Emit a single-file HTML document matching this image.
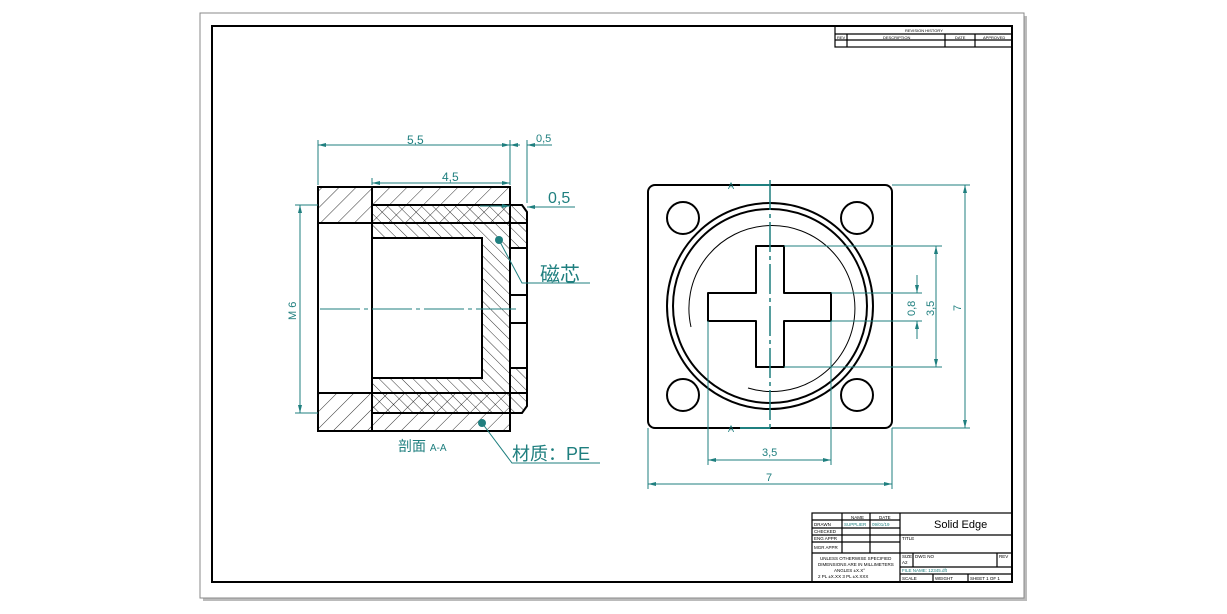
<!DOCTYPE html>
<html><head><meta charset="utf-8"><style>
html,body{margin:0;padding:0;background:#fff;width:1227px;height:614px;overflow:hidden}
svg{display:block}
text{font-family:"Liberation Sans","Noto Sans CJK SC",sans-serif}
</style></head><body>
<svg width="1227" height="614" viewBox="0 0 1227 614" xmlns="http://www.w3.org/2000/svg">
<defs>
<pattern id="pe" patternUnits="userSpaceOnUse" width="12" height="12" patternTransform="rotate(45)"><line x1="0" y1="0" x2="0" y2="12" stroke="#000" stroke-width="0.8"/></pattern>
<pattern id="mc" patternUnits="userSpaceOnUse" width="8" height="8" patternTransform="rotate(-45)"><line x1="0" y1="0" x2="0" y2="8" stroke="#000" stroke-width="0.8"/></pattern>
<marker id="ar" markerWidth="8" markerHeight="6" refX="8" refY="3" orient="auto-start-reverse" markerUnits="userSpaceOnUse"><path d="M0,1 L8,3 L0,5z" fill="#1f7f7f"/></marker>
</defs>
<!-- sheet -->
<rect x="203" y="16" width="824" height="585" fill="#bbb"/>
<rect x="200" y="13" width="824" height="585" fill="#fff" stroke="#888" stroke-width="1"/>
<rect x="212" y="26" width="800" height="556" fill="none" stroke="#000" stroke-width="2"/>
<!-- revision block -->
<g stroke="#000" fill="none" stroke-width="1.2">
<rect x="835" y="26" width="177" height="21"/>
<line x1="835" y1="34" x2="1012" y2="34"/><line x1="835" y1="40" x2="1012" y2="40"/>
<line x1="847" y1="34" x2="847" y2="47"/><line x1="945" y1="34" x2="945" y2="47"/><line x1="975" y1="34" x2="975" y2="47"/>
</g>
<g font-size="4" fill="#000"><text x="905" y="32">REVISION HISTORY</text><text x="837" y="39">REV</text><text x="883" y="39">DESCRIPTION</text><text x="955" y="39">DATE</text><text x="983" y="39">APPROVED</text></g>

<!-- LEFT VIEW -->
<g>
<path d="M318,187 H510 V205 H372 V411 H510 V431 H318Z M318,223 V393 H372 V223Z" fill="url(#pe)" fill-rule="evenodd"/>
<path d="M372,205 H522 L527,212 V406 L522,413 H372Z M372,238 V378 H482 V238Z M510,248 V368 H527 V248Z" fill="url(#mc)" fill-rule="evenodd"/>
<rect x="372" y="205" width="138" height="18" fill="url(#pe)"/>
<rect x="372" y="393" width="138" height="18" fill="url(#pe)"/>
<g stroke="#000" fill="none" stroke-width="2">
<path d="M318,187 H510 V431 H318Z"/>
<path d="M372,205 H522 L527,212 V406 L522,413 H372Z"/>
<rect x="372" y="238" width="110" height="140"/>
<line x1="318" y1="223" x2="527" y2="223"/><line x1="318" y1="393" x2="527" y2="393"/>
<line x1="372" y1="187" x2="372" y2="431"/>
<path d="M527,248 H510 V368 H527 M510,295 H527 M510,323 H527"/>
</g>
<line x1="320" y1="309" x2="518" y2="309" stroke="#1f7f7f" stroke-width="1" stroke-dasharray="40,4,4,4"/>
</g>
<g stroke="#1f7f7f" stroke-width="1" fill="none">
<line x1="318" y1="185" x2="318" y2="140"/><line x1="510" y1="185" x2="510" y2="140"/><line x1="527" y1="203" x2="527" y2="140"/>
<line x1="372" y1="185" x2="372" y2="178"/>
<line x1="318" y1="145" x2="510" y2="145" marker-start="url(#ar)" marker-end="url(#ar)"/>
<line x1="510" y1="145" x2="520" y2="145" marker-start="url(#ar)"/><line x1="527" y1="145" x2="552" y2="145" marker-start="url(#ar)"/>
<line x1="372" y1="183" x2="510" y2="183" marker-start="url(#ar)" marker-end="url(#ar)"/>
<line x1="480" y1="206" x2="510" y2="206" marker-end="url(#ar)"/><line x1="575" y1="207" x2="527" y2="207" marker-end="url(#ar)"/>
<line x1="295" y1="205" x2="318" y2="205"/><line x1="295" y1="413" x2="318" y2="413"/>
<line x1="300" y1="205" x2="300" y2="413" marker-start="url(#ar)" marker-end="url(#ar)"/>
<polyline points="499,240 522,283 590,283"/>
<polyline points="482,423 512,463 600,463"/>
</g>
<circle cx="499" cy="240" r="4" fill="#1f7f7f"/><circle cx="482" cy="423" r="4" fill="#1f7f7f"/>
<g fill="#1f7f7f">
<text x="407" y="144" font-size="12">5,5</text><text x="442" y="181" font-size="12">4,5</text>
<text x="536" y="142" font-size="11">0,5</text><text x="548" y="203" font-size="16">0,5</text>
<text x="296" y="320" font-size="11" transform="rotate(-90 296 320)">M 6</text>
<text x="540" y="281" font-size="20">磁芯</text>
<text x="512" y="460" font-size="18">材质：PE</text>
<text x="398" y="451" font-size="14">剖面 <tspan font-size="10">A-A</tspan></text>
</g>

<!-- RIGHT VIEW -->
<g stroke="#000" fill="none" stroke-width="2">
<rect x="648" y="185" width="244" height="243" rx="7"/>
<circle cx="770" cy="306" r="103"/><circle cx="770" cy="306" r="97"/>
<circle cx="683" cy="218" r="16"/><circle cx="857" cy="218" r="16"/><circle cx="683" cy="395" r="16"/><circle cx="857" cy="395" r="16"/>
<path d="M756,246 H784 V293 H831 V321 H784 V367 H756 V321 H708 V293 H756Z" stroke-linejoin="round"/>
</g>
<path d="M691,327 A83,83 0 1 1 748,388" stroke="#000" stroke-width="1" fill="none"/>
<g stroke="#1f7f7f" stroke-width="1" fill="none">
<line x1="770" y1="180" x2="770" y2="432" stroke-width="1.5" stroke-dasharray="30,4,4,4"/>
<line x1="740" y1="185" x2="770" y2="185" stroke-width="2"/><line x1="740" y1="428" x2="770" y2="428" stroke-width="2"/>
<line x1="784" y1="246" x2="942" y2="246"/><line x1="784" y1="367" x2="942" y2="367"/>
<line x1="831" y1="293" x2="922" y2="293"/><line x1="831" y1="321" x2="922" y2="321"/>
<line x1="892" y1="185" x2="970" y2="185"/><line x1="892" y1="428" x2="970" y2="428"/>
<line x1="936" y1="246" x2="936" y2="367" marker-start="url(#ar)" marker-end="url(#ar)"/>
<line x1="917" y1="275" x2="917" y2="293" marker-end="url(#ar)"/><line x1="917" y1="339" x2="917" y2="321" marker-end="url(#ar)"/>
<line x1="965" y1="185" x2="965" y2="428" marker-start="url(#ar)" marker-end="url(#ar)"/>
<line x1="708" y1="321" x2="708" y2="465"/><line x1="831" y1="321" x2="831" y2="465"/>
<line x1="648" y1="428" x2="648" y2="489"/><line x1="892" y1="428" x2="892" y2="489"/>
<line x1="708" y1="460" x2="831" y2="460" marker-start="url(#ar)" marker-end="url(#ar)"/>
<line x1="648" y1="484" x2="892" y2="484" marker-start="url(#ar)" marker-end="url(#ar)"/>
</g>
<g fill="#1f7f7f" font-size="11">
<text x="762" y="456">3,5</text><text x="766" y="481">7</text>
<text x="915" y="316" transform="rotate(-90 915 316)">0,8</text>
<text x="934" y="316" transform="rotate(-90 934 316)">3,5</text>
<text x="961" y="311" transform="rotate(-90 961 311)">7</text>
<text x="728" y="189" font-size="9">A</text><text x="728" y="432" font-size="9">A</text>
</g>

<!-- TITLE BLOCK -->
<g stroke="#000" fill="none" stroke-width="1.2">
<rect x="812" y="513" width="200" height="69"/>
<line x1="900" y1="513" x2="900" y2="582"/>
<line x1="812" y1="520" x2="900" y2="520"/><line x1="812" y1="528" x2="900" y2="528"/><line x1="812" y1="535" x2="900" y2="535"/><line x1="812" y1="542" x2="900" y2="542"/><line x1="812" y1="553" x2="1012" y2="553"/>
<line x1="842" y1="513" x2="842" y2="553"/><line x1="870" y1="513" x2="870" y2="553"/>
<line x1="900" y1="535" x2="1012" y2="535"/>
<line x1="900" y1="567" x2="1012" y2="567"/><line x1="900" y1="574" x2="1012" y2="574"/>
<line x1="913" y1="553" x2="913" y2="567"/><line x1="997" y1="553" x2="997" y2="567"/>
<line x1="933" y1="574" x2="933" y2="582"/><line x1="968" y1="574" x2="968" y2="582"/>
</g>
<g font-size="4.5" fill="#000">
<text x="851" y="519">NAME</text><text x="879" y="519">DATE</text>
<text x="814" y="526">DRAWN</text><text x="814" y="533">CHECKED</text><text x="814" y="540">ENG APPR</text><text x="814" y="549">MGR APPR</text>
<text x="820" y="560">UNLESS OTHERWISE SPECIFIED</text><text x="818" y="566">DIMENSIONS ARE IN MILLIMETERS</text>
<text x="834" y="572">ANGLES ±X.X°</text><text x="818" y="578">2 PL ±X.XX 3 PL ±X.XXX</text>
<text x="902" y="540">TITLE</text><text x="902" y="558">SIZE</text><text x="902" y="564">A2</text><text x="915" y="558">DWG NO</text><text x="999" y="558">REV</text>
<text x="902" y="580">SCALE</text><text x="935" y="580">WEIGHT</text><text x="970" y="580">SHEET 1 OF 1</text>
</g>
<g font-size="4.5" fill="#1f7f7f"><text x="844" y="526">SUPPLIER</text><text x="872" y="526">09/01/19</text><text x="902" y="572">FILE NAME: 12345.dft</text></g>
<text x="934" y="528" font-size="11" fill="#000">Solid Edge</text>
</svg>
</body></html>
